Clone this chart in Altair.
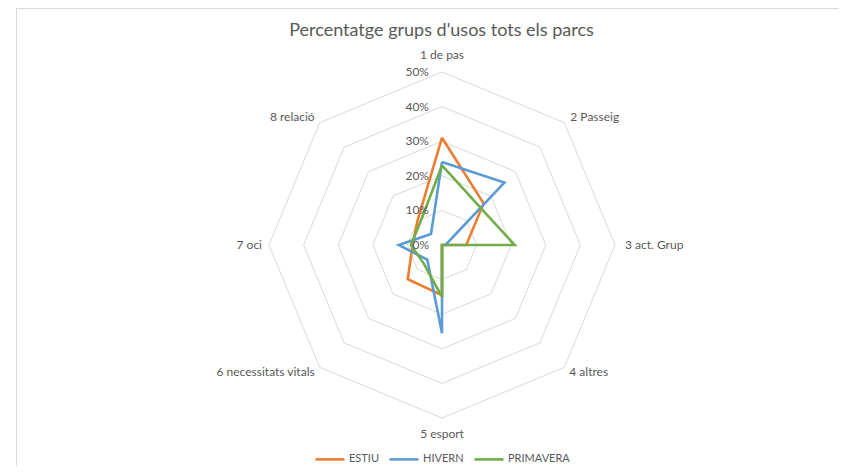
import altair as alt
import pandas as pd

# ---- data ----
categories = ["1 de pas", "2 Passeig", "3 act. Grup", "4 altres",
              "5 esport", "6 necessitats vitals", "7 oci", "8 relació"]
estiu = [31, 17, 7, 0, 14.5, 14, 8.5, 10]
hivern = [24, 25.5, 1, 0, 25.5, 6, 12.5, 4.5]
primavera = [23, 15.5, 21, 0, 15, 7.5, 9, 9]
series_names = ["ESTIU", "HIVERN", "PRIMAVERA"]
series_colors = ["#ED7D31", "#5B9BD5", "#70AD47"]
tick_values = [0, 10, 20, 30, 40, 50]
tick_labels = ["0%", "10%", "20%", "30%", "40%", "50%"]
title_text = "Percentatge grups d'usos tots els parcs"

FONT = "Lato"
TXT = "#595959"
GRID = "#D9D9D9"

# ---- tables ----
n = len(categories)
rows = []
for name, vals in zip(series_names, [estiu, hivern, primavera]):
    for i in range(n + 1):
        rows.append({"serie": name, "idx": i, "value": vals[i % n]})
df_series = pd.DataFrame(rows)

grid_rows = []
for lv in tick_values[1:]:
    for i in range(n + 1):
        grid_rows.append({"level": lv, "idx": i, "value": lv})
df_grid = pd.DataFrame(grid_rows)

df_labels = pd.DataFrame({"idx": list(range(n)), "label": categories,
                          "value": [tick_values[-1]] * n})
df_ticks = pd.DataFrame({"value": tick_values, "label": tick_labels})

# ---- geometry helpers ----
W, H = 831, 458
CX, CY = 434, 237
PX = 173 / 50.0
xdom = [-CX / PX, (W - CX) / PX]
ydom = [-(H - CY) / PX, CY / PX]

xs = alt.Scale(domain=xdom, nice=False, zero=False)
ys = alt.Scale(domain=ydom, nice=False, zero=False)


def polar(chart):
    return chart.transform_calculate(
        ang="datum.idx * 2 * PI / %d" % n
    ).transform_calculate(
        px="datum.value * sin(datum.ang)",
        py="datum.value * cos(datum.ang)",
    )


X = alt.X("px:Q", scale=xs, axis=None)
Y = alt.Y("py:Q", scale=ys, axis=None)

grid = polar(alt.Chart(df_grid)).mark_line(
    color=GRID, strokeWidth=1
).encode(x=X, y=Y, detail="level:N", order="idx:Q")

lines = polar(alt.Chart(df_series)).mark_line(
    strokeWidth=2.6, strokeJoin="miter"
).encode(
    x=X, y=Y, order="idx:Q",
    color=alt.Color(
        "serie:N",
        scale=alt.Scale(domain=series_names, range=series_colors),
        legend=alt.Legend(
            title=None, orient="none", direction="horizontal",
            legendX=306, legendY=435,
            symbolType="stroke", symbolSize=841, symbolStrokeWidth=2.6,
            labelFont=FONT, labelFontSize=11, labelColor=TXT,
            labelOffset=3, columnPadding=5,
        ),
    ),
)

ticks = alt.Chart(df_ticks).mark_text(
    align="right", baseline="middle", dx=-13, font=FONT, fontSize=12, color=TXT
).encode(
    x=alt.X("zero:Q", scale=xs, axis=None),
    y=alt.Y("value:Q", scale=ys, axis=None),
    text="label:N",
).transform_calculate(zero="0")

# label placement style for each spoke: (align, dx, dy)
label_style = [("center", 0, -17), ("left", 6, -6), ("left", 10, 0), ("left", 5, 5),
               ("center", 0, 16), ("right", -5, 5), ("right", -7, 0), ("right", -5, -6)]
label_layers = []
for i, (al, ddx, ddy) in enumerate(label_style):
    label_layers.append(
        polar(alt.Chart(df_labels)).transform_filter(
            "datum.idx == %d" % i
        ).mark_text(
            align=al, baseline="middle", dx=ddx, dy=ddy,
            font=FONT, fontSize=12, color=TXT,
        ).encode(x=X, y=Y, text="label:N")
    )

frame_top = alt.Chart(df_ticks).mark_rule(color=GRID, strokeWidth=1).encode(
    x=alt.value(8), x2=alt.value(W), y=alt.value(0.5)
)
frame_left = alt.Chart(df_ticks).mark_rule(color=GRID, strokeWidth=1).encode(
    x=alt.value(8.5), y=alt.value(0), y2=alt.value(H)
)

chart = alt.layer(
    frame_top, frame_left, grid, lines, ticks, *label_layers
).properties(
    width=W, height=H,
    autosize=alt.AutoSizeParams(type="none"),
    padding=0,
    title=alt.TitleParams(
        title_text, font=FONT, fontSize=18, fontWeight="normal", color=TXT,
        anchor="middle", dx=18, dy=36,
    ),
).configure_view(stroke=None)

chart.save("out.html", embed_options={"renderer": "svg", "actions": False})
